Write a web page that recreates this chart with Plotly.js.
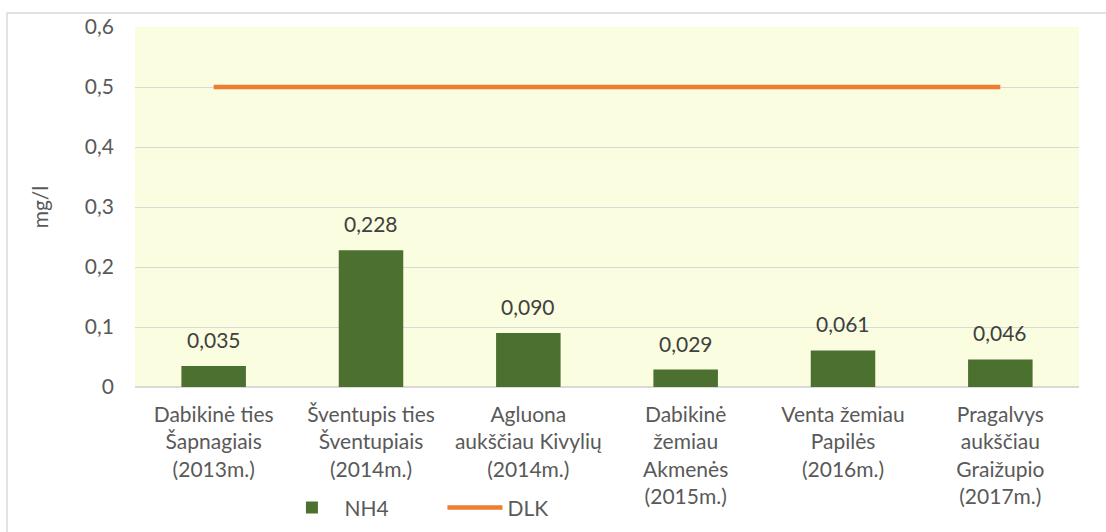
<!DOCTYPE html>
<html>
<head>
<meta charset="utf-8">
<script src="https://cdn.plot.ly/plotly-3.0.1.min.js"></script>
<style>
  html, body { margin: 0; padding: 0; background: #fff; }
  #chart { width: 1106px; height: 532px; }
</style>
</head>
<body>
<div id="chart"></div>
<script>
// categories (river / site / year)
const sites = [
  'Dabikinė ties<br>Šapnagiais<br>(2013m.)',
  'Šventupis ties<br>Šventupiais<br>(2014m.)',
  'Agluona<br>aukščiau Kivylių<br>(2014m.)',
  'Dabikinė<br>žemiau<br>Akmenės<br>(2015m.)',
  'Venta žemiau<br>Papilės<br>(2016m.)',
  'Pragalvys<br>aukščiau<br>Graižupio<br>(2017m.)'
];
const nh4 = [0.035, 0.228, 0.090, 0.029, 0.061, 0.046];
const dlk = [0.5, 0.5, 0.5, 0.5, 0.5, 0.5];

const textColor = '#595959';
const fontFamily = 'Lato, "Open Sans", sans-serif';

const barTrace = {
  type: 'bar',
  name: 'NH4',
  x: sites,
  y: nh4,
  marker: { color: '#4b7030' },
  hoverinfo: 'skip'
};

const lineTrace = {
  type: 'scatter',
  mode: 'lines',
  name: 'DLK',
  x: sites,
  y: dlk,
  line: { color: '#ed7d31', width: 4.5 },
  hoverinfo: 'skip'
};

// value labels above bars
const labels = nh4.map((v, i) => ({
  x: sites[i],
  y: v,
  xref: 'x',
  yref: 'y',
  text: v.toFixed(3).replace('.', ','),
  showarrow: false,
  yanchor: 'bottom',
  yshift: 12,
  font: { size: 21, color: '#404040', family: fontFamily }
}));

const layout = {
  width: 1106,
  height: 532,
  margin: { l: 135, r: 27, t: 27, b: 145, autoexpand: false },
  paper_bgcolor: '#ffffff',
  plot_bgcolor: '#fafddf',
  separators: ', ',
  font: { family: fontFamily, color: textColor, size: 21 },
  bargap: 0.59,
  showlegend: true,
  legend: {
    orientation: 'h',
    x: 0.153,
    xanchor: 'left',
    y: -0.336,
    yanchor: 'middle',
    itemwidth: 55,
    entrywidth: 93,
    entrywidthmode: 'pixels',
    font: { size: 21, color: textColor },
    bgcolor: 'rgba(0,0,0,0)'
  },
  xaxis: {
    type: 'category',
    automargin: false,
    tickfont: { size: 21, color: textColor },
    ticklabelstandoff: 13,
    ticks: '',
    showgrid: false,
    showline: false,
    zeroline: false,
    fixedrange: true
  },
  yaxis: {
    range: [0, 0.6],
    dtick: 0.1,
    tick0: 0,
    automargin: false,
    tickfont: { size: 21, color: textColor },
    ticklabelstandoff: 20,
    gridcolor: '#d9d9d9',
    gridwidth: 1,
    zeroline: true,
    zerolinecolor: '#d9d9d9',
    zerolinewidth: 1.5,
    showline: false,
    ticks: '',
    title: { text: 'mg/l', font: { size: 21, color: textColor }, standoff: 30 },
    fixedrange: true
  },
  annotations: labels,
  shapes: [{
    type: 'rect',
    xref: 'paper',
    yref: 'paper',
    x0: -0.1356,
    x1: 1.04,
    y0: -0.5,
    y1: 1.039,
    line: { color: '#d9d9d9', width: 1.5 },
    fillcolor: 'rgba(0,0,0,0)',
    layer: 'below'
  }]
};

Plotly.newPlot('chart', [barTrace, lineTrace], layout, { displayModeBar: false, staticPlot: true });
</script>
</body>
</html>
